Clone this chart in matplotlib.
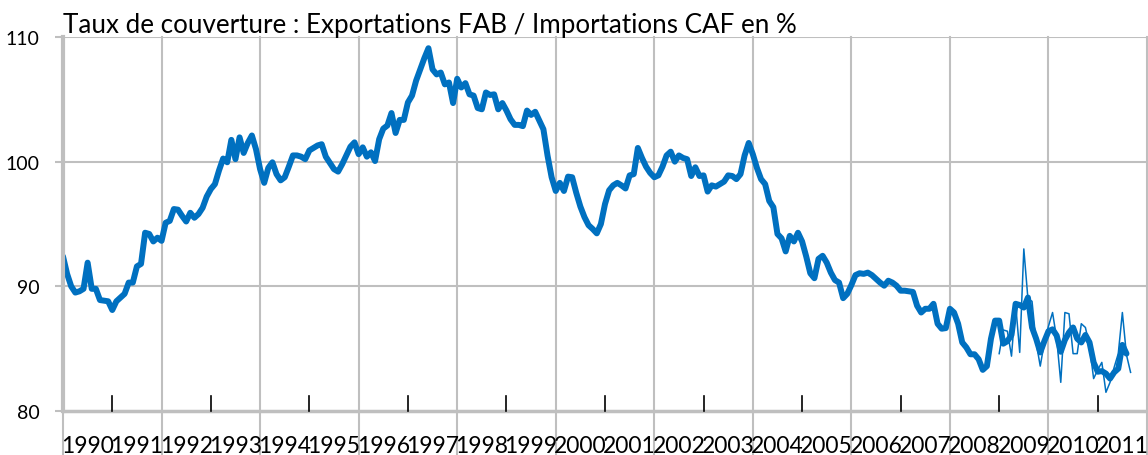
import numpy as np
import matplotlib.pyplot as plt
from matplotlib import transforms

plt.rcParams['font.family'] = ['Lato', 'DejaVu Sans']

# === données (taux de couverture mensuel, en %) ===
taux_lisse = [
    92.4, 91.0, 90.0, 89.5, 89.6, 89.8, 91.9, 89.8, 89.8, 88.9, 88.85, 88.8,      # 1990
    88.1, 88.8, 89.1, 89.4, 90.3, 90.3, 91.6, 91.8, 94.3, 94.2, 93.6, 93.9,       # 1991
    93.65, 95.1, 95.25, 96.2, 96.15, 95.65, 95.2, 95.9, 95.5, 95.8, 96.3, 97.2,   # 1992
    97.8, 98.2, 99.3, 100.25, 99.95, 101.75, 100.2, 101.95, 100.7, 101.5, 102.1, 101.0,  # 1993
    99.4, 98.3, 99.5, 99.95, 99.0, 98.5, 98.75, 99.6, 100.5, 100.5, 100.4, 100.2,  # 1994
    100.9, 101.1, 101.3, 101.4, 100.4, 99.9, 99.4, 99.2, 99.8, 100.5, 101.2, 101.55,  # 1995
    100.6, 101.15, 100.4, 100.75, 100.05, 101.8, 102.65, 102.9, 103.9, 102.3, 103.35, 103.35,  # 1996
    104.75, 105.3, 106.5, 107.4, 108.3, 109.1, 107.4, 107.0, 107.15, 106.2, 106.35, 104.7,  # 1997
    106.65, 105.95, 106.3, 105.4, 105.3, 104.3, 104.2, 105.55, 105.35, 105.4, 104.2, 104.7,  # 1998
    104.1, 103.4, 102.95, 102.95, 102.85, 104.1, 103.75, 104.0, 103.3, 102.6, 100.5, 98.75,  # 1999
    97.65, 98.3, 97.65, 98.8, 98.75, 97.5, 96.4, 95.55, 94.9, 94.6, 94.25, 95.0,   # 2000
    96.6, 97.7, 98.1, 98.3, 98.1, 97.85, 98.9, 99.0, 101.1, 100.3, 99.6, 99.1,     # 2001
    98.75, 98.9, 99.6, 100.5, 100.8, 100.0, 100.5, 100.3, 100.2, 98.85, 99.55, 98.85,  # 2002
    98.9, 97.6, 98.1, 98.0, 98.2, 98.4, 98.9, 98.85, 98.6, 99.0, 100.5, 101.5,     # 2003
    100.6, 99.5, 98.6, 98.2, 96.85, 96.35, 94.2, 93.85, 92.8, 94.05, 93.6, 94.3,   # 2004
    93.6, 92.4, 91.05, 90.65, 92.2, 92.45, 91.9, 91.1, 90.5, 90.3, 89.05, 89.4,    # 2005
    90.1, 90.9, 91.05, 91.0, 91.1, 90.9, 90.6, 90.3, 90.05, 90.45, 90.3, 90.05,    # 2006
    89.65, 89.65, 89.6, 89.55, 88.45, 87.9, 88.2, 88.2, 88.6, 87.0, 86.6, 86.65,   # 2007
    88.2, 87.9, 87.0, 85.5, 85.1, 84.55, 84.55, 84.15, 83.3, 83.6, 85.8, 87.25,    # 2008
    87.25, 85.4, 85.6, 86.1, 88.6, 88.5, 88.3, 89.1, 86.7, 85.8, 84.7, 85.6,       # 2009
    86.4, 86.55, 86.05, 84.75, 85.7, 86.3, 86.7, 85.8, 85.5, 86.1, 85.5, 83.9,     # 2010
    83.15, 83.2, 83.0, 82.6, 83.1, 83.4, 85.3, 84.6,                               # 2011
]

# série brute, à partir de janvier 2009
debut_brut = 228
taux_brut = [
    84.6, 86.5, 86.4, 84.4, 88.6, 84.7, 93.0, 89.0, 88.8, 85.5, 83.6, 85.5,
    86.8, 87.9, 85.8, 82.3, 87.9, 87.8, 84.6, 84.6, 87.0, 86.7, 85.2, 82.6,
    83.3, 83.9, 81.5, 82.3, 83.5, 84.6, 87.9, 84.5, 83.1,
]

annees = list(range(1990, 2012))
y_ticks = [80, 90, 100, 110]

BLEU = '#0070C0'
GRIS = '#BFBFBF'

fig = plt.figure(figsize=(11.48, 4.56), dpi=100)
ax = fig.add_axes([63 / 1148, 44 / 456, 1084 / 1148, 374 / 456])

n_mois = len(annees) * 12
ax.set_xlim(0, n_mois)
ax.set_ylim(80, 110)

# grille verticale tous les 2 ans (descend sous l'axe jusqu'aux libellés)
trans = transforms.blended_transform_factory(ax.transData, ax.transAxes)
for m in range(0, n_mois + 1, 24):
    ax.plot([m, m], [-0.12, 1], transform=trans, color=GRIS, lw=1.5,
            clip_on=False, zorder=0)
# graduations noires entre les deux
for m in range(12, n_mois, 24):
    ax.plot([m, m], [0, 15 / 374], transform=trans, color='black', lw=1.2,
            clip_on=False, zorder=3)

for v in y_ticks[1:]:
    ax.axhline(v, color=GRIS, lw=1.5, zorder=0)

# courbes
x_lisse = np.arange(len(taux_lisse))
x_brut = np.arange(len(taux_brut)) + debut_brut
ax.plot(x_brut, taux_brut, color=BLEU, lw=1.1, zorder=2)
ax.plot(x_lisse, taux_lisse, color=BLEU, lw=4.3, solid_joinstyle='round',
        solid_capstyle='round', zorder=2)

# axes
for s in ['top', 'right']:
    ax.spines[s].set_visible(False)
ax.spines['left'].set_color(GRIS)
ax.spines['left'].set_linewidth(3)
ax.spines['bottom'].set_color(GRIS)
ax.spines['bottom'].set_linewidth(2.5)
ax.spines['bottom'].set_zorder(1)

ax.set_yticks(y_ticks)
ax.set_yticklabels([str(v) for v in y_ticks], fontsize=14)
ax.tick_params(axis='y', length=6, width=1.5, color=GRIS, pad=11)

ax.set_xticks([])
for i, a in enumerate(annees):
    ax.text(12 * i + 6, -0.065, str(a), transform=trans, ha='center', va='top',
            fontsize=16.5)

fig.text(63 / 1148, 1 - 33 / 456, 'Taux de couverture : Exportations FAB / Importations CAF en %',
         ha='left', va='baseline', fontsize=18.7)

fig.savefig('out.png', dpi=100)
